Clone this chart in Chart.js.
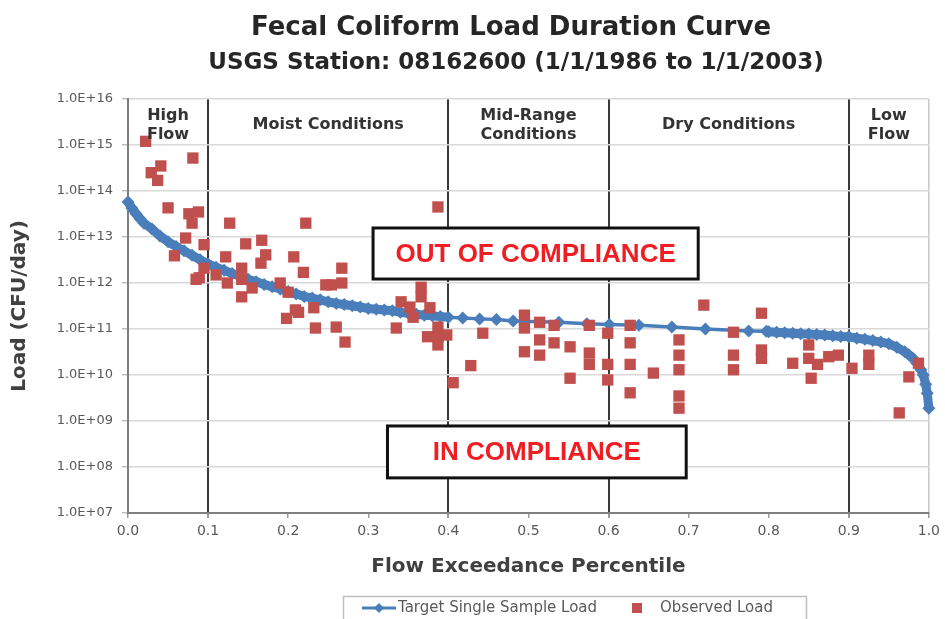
<!DOCTYPE html>
<html>
<head>
<meta charset="utf-8">
<script src="https://cdn.jsdelivr.net/npm/chart.js@4.4.0/dist/chart.umd.min.js"></script>
<style>
  html, body { margin: 0; padding: 0; background: #fff; }
</style>
</head>
<body>
<canvas id="graphic" width="945" height="619"></canvas>
<script>
// flow exceedance percentile vs load (CFU/day)
const targetX = [0, 0.005, 0.01, 0.015, 0.02, 0.03, 0.04, 0.05, 0.06, 0.07, 0.08, 0.09,
  0.10, 0.11, 0.12, 0.13, 0.14, 0.15, 0.16, 0.17, 0.18, 0.19, 0.20, 0.21, 0.22, 0.23,
  0.24, 0.25, 0.26, 0.27, 0.28, 0.29, 0.30, 0.31, 0.32, 0.33, 0.34, 0.35, 0.36, 0.37,
  0.38, 0.39, 0.40, 0.418, 0.439, 0.460, 0.481, 0.538, 0.573, 0.601, 0.638, 0.679,
  0.721, 0.775, 0.797, 0.80, 0.81, 0.82, 0.83, 0.84, 0.85, 0.86, 0.87, 0.88, 0.89,
  0.90, 0.91, 0.92, 0.93, 0.94, 0.95, 0.96, 0.97, 0.975, 0.98, 0.985, 0.99, 0.993,
  0.996, 0.998, 1.0];
const targetLoad = [5.8e13, 4.2e13, 3.2e13, 2.5e13, 2.0e13, 1.5e13, 1.05e13, 7.9e12, 6.2e12,
  5.0e12, 4.0e12, 3.2e12, 2.6e12, 2.2e12, 1.9e12, 1.6e12, 1.4e12, 1.2e12, 1.07e12, 9.3e11,
  8.3e11, 7.4e11, 6.5e11, 5.8e11, 5.1e11, 4.7e11, 4.3e11, 3.9e11, 3.6e11, 3.4e11, 3.2e11,
  3.0e11, 2.8e11, 2.7e11, 2.6e11, 2.5e11, 2.3e11, 2.2e11, 2.1e11, 2.0e11, 1.95e11, 1.86e11,
  1.8e11, 1.74e11, 1.66e11, 1.6e11, 1.5e11, 1.4e11, 1.3e11, 1.26e11, 1.2e11, 1.1e11, 1.0e11,
  9.1e10, 8.9e10, 8.7e10, 8.5e10, 8.3e10, 8.1e10, 7.9e10, 7.8e10, 7.6e10, 7.4e10, 7.1e10,
  6.9e10, 6.8e10, 6.3e10, 6.0e10, 5.6e10, 5.2e10, 4.8e10, 4.0e10, 3.2e10, 2.75e10, 2.3e10,
  1.8e10, 1.3e10, 1.0e10, 6.3e9, 4.0e9, 1.9e9];

const observedX = [0.022, 0.081, 0.041, 0.029, 0.037, 0.050, 0.076, 0.088, 0.080, 0.072,
  0.095, 0.058, 0.095, 0.089, 0.085, 0.127, 0.147, 0.167, 0.122, 0.172, 0.166, 0.110,
  0.142, 0.142, 0.124, 0.155, 0.142, 0.190, 0.207, 0.222, 0.219, 0.200, 0.198, 0.209,
  0.213, 0.232, 0.234, 0.247, 0.254, 0.267, 0.267, 0.260, 0.271, 0.335, 0.341, 0.352,
  0.356, 0.366, 0.366, 0.377, 0.374, 0.387, 0.387, 0.387, 0.387, 0.398, 0.406, 0.428,
  0.443, 0.495, 0.495, 0.495, 0.514, 0.514, 0.514, 0.532, 0.532, 0.552, 0.552, 0.576,
  0.576, 0.576, 0.599, 0.599, 0.599, 0.627, 0.627, 0.627, 0.627, 0.656, 0.688, 0.688,
  0.688, 0.688, 0.688, 0.719, 0.756, 0.756, 0.756, 0.791, 0.791, 0.791, 0.830, 0.850,
  0.850, 0.853, 0.861, 0.875, 0.887, 0.904, 0.925, 0.925, 0.975, 0.987, 0.963];
const observedLoad = [1.2e15, 5.2e14, 3.5e14, 2.5e14, 1.7e14, 4.3e13, 3.2e13, 3.5e13, 2.0e13,
  9.5e12, 6.8e12, 3.9e12, 2.1e12, 1.3e12, 1.2e12, 2.0e13, 7.1e12, 8.5e12, 3.7e12, 4.1e12,
  2.7e12, 1.5e12, 2.1e12, 1.2e12, 1.0e12, 7.8e11, 5.0e11, 1.0e12, 3.7e12, 2.0e13, 1.7e12,
  6.3e11, 1.7e11, 2.6e11, 2.3e11, 2.9e11, 1.05e11, 9.1e11, 9.1e11, 1.0e12, 2.1e12, 1.1e11,
  5.2e10, 1.05e11, 3.9e11, 3.0e11, 1.8e11, 8.1e11, 5.0e11, 2.9e11, 6.8e10, 1.1e11, 6.8e10,
  4.5e10, 4.5e13, 7.4e10, 6.8e9, 1.6e10, 8.1e10, 2.0e11, 1.05e11, 3.2e10, 1.4e11, 5.8e10,
  2.7e10, 1.2e11, 5.0e10, 4.1e10, 8.5e9, 1.2e11, 3.0e10, 1.7e10, 8.1e10, 1.7e10, 7.8e9,
  1.2e11, 5.0e10, 1.7e10, 4.1e9, 1.1e10, 5.8e10, 2.7e10, 1.3e10, 3.5e9, 1.9e9, 3.3e11,
  8.5e10, 2.7e10, 1.3e10, 2.2e11, 3.5e10, 2.3e10, 1.8e10, 4.5e10, 2.3e10, 8.5e9, 1.7e10,
  2.5e10, 2.7e10, 1.4e10, 2.7e10, 1.7e10, 9.1e9, 1.8e10, 1.5e9];

const yTicks = [1e7, 1e8, 1e9, 1e10, 1e11, 1e12, 1e13, 1e14, 1e15, 1e16];
const zoneEdges = [0, 0.1, 0.4, 0.6, 0.9, 1.0];
const zoneNames = [['High', 'Flow'], ['Moist Conditions'], ['Mid-Range', 'Conditions'],
  ['Dry Conditions'], ['Low', 'Flow']];

const FONT = '"DejaVu Sans", sans-serif';
Chart.defaults.font.family = FONT;

const innerEdges = zoneEdges.slice(1, -1);
function isEdge(v) {
  return innerEdges.some(e => Math.abs(e - v) < 1e-6);
}

// titles, zone labels, compliance boxes and legend box
const extras = {
  id: 'extras',
  afterDraw(chart) {
    const ctx = chart.ctx;
    const xs = chart.scales.x;
    const ys = chart.scales.y;
    const area = chart.chartArea;
    ctx.save();

    ctx.fillStyle = '#262626';
    ctx.textAlign = 'center';
    ctx.textBaseline = 'middle';
    ctx.font = 'bold 26px ' + FONT;
    ctx.fillText('Fecal Coliform Load Duration Curve', 511, 28);
    ctx.font = 'bold 23px ' + FONT;
    ctx.fillText('USGS Station: 08162600 (1/1/1986 to 1/1/2003)', 516, 63);

    // flow zone labels
    ctx.font = 'bold 16px ' + FONT;
    ctx.fillStyle = '#333333';
    zoneNames.forEach((lines, i) => {
      const cx = xs.getPixelForValue((zoneEdges[i] + zoneEdges[i + 1]) / 2);
      if (lines.length === 1) {
        ctx.fillText(lines[0], cx, area.top + 26);
      } else {
        ctx.fillText(lines[0], cx, area.top + 17);
        ctx.fillText(lines[1], cx, area.top + 36);
      }
    });

    // compliance boxes
    const boxes = [
      { text: 'OUT OF COMPLIANCE', x0: 0.306, x1: 0.712, y0: 1.57e13, y1: 1.22e12 },
      { text: 'IN COMPLIANCE', x0: 0.324, x1: 0.697, y0: 7.8e8, y1: 5.8e7 }
    ];
    boxes.forEach(b => {
      const l = xs.getPixelForValue(b.x0), r = xs.getPixelForValue(b.x1);
      const t = ys.getPixelForValue(b.y0), btm = ys.getPixelForValue(b.y1);
      ctx.fillStyle = '#ffffff';
      ctx.fillRect(l, t, r - l, btm - t);
      ctx.lineWidth = 3;
      ctx.strokeStyle = '#111111';
      ctx.strokeRect(l, t, r - l, btm - t);
      ctx.fillStyle = '#f01e23';
      ctx.font = 'bold 26px "Liberation Sans", Arial, sans-serif';
      ctx.fillText(b.text, (l + r) / 2, (t + btm) / 2 + 1);
    });

    // legend
    ctx.lineWidth = 1.5;
    ctx.strokeStyle = '#bfbfbf';
    ctx.strokeRect(343.5, 596.5, 463, 40);
    ctx.strokeStyle = '#4a7ebb';
    ctx.lineWidth = 3;
    ctx.beginPath();
    ctx.moveTo(362, 608);
    ctx.lineTo(396, 608);
    ctx.stroke();
    ctx.fillStyle = '#4a7ebb';
    ctx.beginPath();
    ctx.moveTo(379, 603); ctx.lineTo(384, 608); ctx.lineTo(379, 613); ctx.lineTo(374, 608);
    ctx.closePath();
    ctx.fill();
    ctx.fillStyle = '#c0504d';
    ctx.fillRect(632, 603, 10, 10);
    ctx.fillStyle = '#595959';
    ctx.font = '15px ' + FONT;
    ctx.textAlign = 'left';
    ctx.fillText('Target Single Sample Load', 398, 608);
    ctx.fillText('Observed Load', 660, 608);
    ctx.restore();
  }
};

const graphic = document.getElementById('graphic');
const graphicControler = new Chart(graphic, {
  type: 'scatter',
  data: {
    datasets: [
      {
        label: 'Target Single Sample Load',
        data: targetX.map((x, i) => ({ x: x, y: targetLoad[i] })),
        showLine: true,
        borderColor: '#4a7ebb',
        backgroundColor: '#4a7ebb',
        borderWidth: 3.5,
        // where the markers crowd together they merge into a thick band
        segment: {
          borderWidth: c => (c.p1.x - c.p0.x) < 12 ? 9 : 3.5
        },
        pointStyle: 'rectRot',
        pointRadius: 6.5,
        pointBorderWidth: 0,
        clip: false,
        order: 1
      },
      {
        label: 'Observed Load',
        data: observedX.map((x, i) => ({ x: x, y: observedLoad[i] })),
        backgroundColor: '#c0504d',
        borderWidth: 0,
        pointStyle: 'rect',
        pointRadius: 8,
        clip: false,
        order: 0
      }
    ]
  },
  options: {
    responsive: false,
    animation: false,
    layout: { padding: { left: 0, right: 12, top: 99, bottom: 36 } },
    plugins: {
      legend: { display: false },
      title: { display: false },
      tooltip: { enabled: false }
    },
    scales: {
      x: {
        type: 'linear',
        min: 0,
        max: 1,
        afterFit(scale) { scale.height = 70; },
        ticks: {
          stepSize: 0.1,
          color: '#595959',
          font: { size: 14 },
          padding: 5,
          callback: v => v.toFixed(1)
        },
        grid: {
          color: c => isEdge(c.tick.value) ? '#3a3a3a' : (c.tick.value > 0.99 ? '#c8c8c8' : 'rgba(0,0,0,0)'),
          lineWidth: c => isEdge(c.tick.value) ? 2 : 1.5,
          tickColor: '#9a9a9a',
          tickLength: 5
        },
        border: { color: '#7f7f7f', width: 2 },
        title: {
          display: true,
          text: 'Flow Exceedance Percentile',
          color: '#404040',
          font: { size: 20, weight: 'bold' },
          padding: { top: 4, bottom: 4 }
        }
      },
      y: {
        type: 'logarithmic',
        min: 1e7,
        max: 1e16,
        afterFit(scale) { scale.width = 128; },
        afterBuildTicks(scale) { scale.ticks = yTicks.map(v => ({ value: v })); },
        ticks: {
          color: '#595959',
          font: { size: 13 },
          padding: 9,
          autoSkip: false,
          callback: v => '1.0E+' + String(Math.round(Math.log10(v))).padStart(2, '0')
        },
        grid: {
          color: '#d9d9d9',
          lineWidth: 1.5,
          tickColor: '#bfbfbf',
          tickLength: 6
        },
        border: { color: '#7f7f7f', width: 2 },
        title: {
          display: true,
          text: 'Load (CFU/day)',
          color: '#404040',
          font: { size: 20, weight: 'bold' },
          padding: { top: 8, bottom: 0 }
        }
      }
    }
  },
  plugins: [extras]
});
</script>
</body>
</html>
